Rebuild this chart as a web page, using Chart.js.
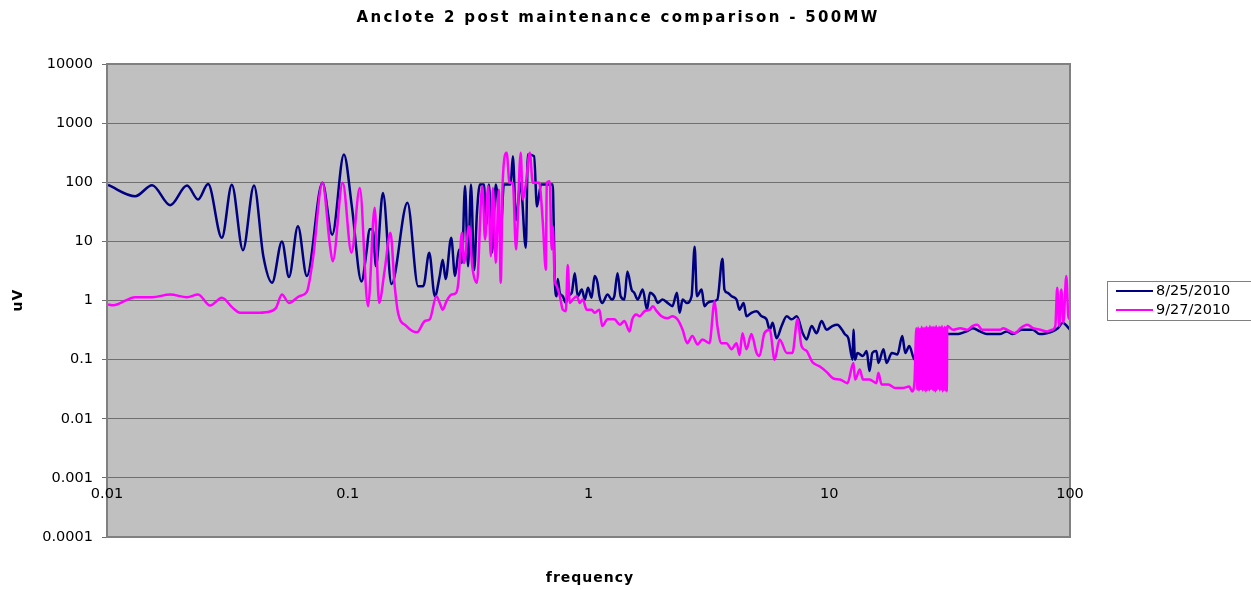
<!DOCTYPE html>
<html>
<head>
<meta charset="utf-8">
<title>Anclote 2 post maintenance comparison - 500MW</title>
<script src="https://cdn.jsdelivr.net/npm/chart.js@4.4.1/dist/chart.umd.min.js"></script>
<style>
  html, body { margin: 0; padding: 0; background: #fff; }
  #wrap { width: 1251px; height: 590px; }
</style>
</head>
<body>
<div id="wrap"><canvas id="specChart" width="1251" height="590"></canvas></div>
<script>
var chartTitle = 'Anclote 2 post maintenance comparison - 500MW';
var xTitle = 'frequency';
var yTitle = 'uV';
var seriesNames = ['8/25/2010', '9/27/2010'];
var seriesColors = ['#000080', '#ff00ff'];

var xTicks = [0.01, 0.1, 1, 10, 100];
var yTicks = [0.0001, 0.001, 0.01, 0.1, 1, 10, 100, 1000, 10000];
var xCross = 0.001; // horizontal axis crosses here

// 8/25/2010
var blueFreq = [
  0.0101, 0.0131, 0.0154, 0.0183, 0.0215, 0.0239, 0.0263, 0.0300, 0.0330, 0.0367,
  0.0408, 0.0446, 0.0485, 0.0533, 0.0570, 0.0621, 0.0676, 0.0785, 0.0862, 0.0964,
  0.104, 0.114, 0.120, 0.123, 0.127, 0.131, 0.140, 0.152, 0.177, 0.196,
  0.206, 0.218, 0.230, 0.241, 0.248, 0.255, 0.269, 0.279, 0.290, 0.298,
  0.307, 0.316, 0.325, 0.335, 0.344, 0.354, 0.368, 0.375, 0.386, 0.397,
  0.412, 0.432, 0.445, 0.475, 0.485, 0.500, 0.522, 0.549, 0.560, 0.594,
  0.611, 0.635, 0.710, 0.717, 0.724, 0.738, 0.745, 0.760, 0.782, 0.805,
  0.820, 0.852, 0.877, 0.902, 0.938, 0.966, 0.995,
  1.03, 1.06, 1.09, 1.11, 1.14, 1.20, 1.25, 1.28, 1.32, 1.36,
  1.41, 1.45, 1.51, 1.55, 1.60, 1.68, 1.75, 1.80, 1.88, 1.94,
  2.03, 2.14, 2.23, 2.33, 2.39, 2.46, 2.56, 2.68, 2.76, 2.82,
  2.95, 3.03, 3.12, 3.27, 3.43, 3.60, 3.67, 3.78, 3.93, 4.12,
  4.24, 4.41, 4.53, 4.75, 4.99, 5.24, 5.49, 5.66, 5.82, 6.04,
  6.34, 6.66, 6.98, 7.33, 7.76, 8.05, 8.45, 8.86, 9.29, 9.75,
  10.3, 10.8, 11.3, 11.6, 12.0, 12.5, 12.6, 12.8, 13.1, 13.8,
  14.3, 14.7, 15.1, 15.7, 16.0, 16.8, 17.3, 18.2, 19.2, 20.1,
  20.7, 21.5, 22.6, 24.8, 27.3, 30.9, 33.8, 37.2, 39.5, 42.3,
  45.1, 51.1, 54.6, 57.8, 62.9, 70.0, 74.8, 80.0, 84.7, 89.0,
  93.4, 97.1, 100
];
var blueUv = [
  90, 58, 89, 41, 88, 51, 93, 11.5, 91, 7.1,
  88, 5.6, 2.0, 10, 2.5, 18, 2.6, 98, 13, 296,
  39, 2.1, 7.3, 16, 16, 3.8, 66, 1.9, 45, 1.75,
  1.75, 6.4, 1.18, 2.6, 4.9, 2.3, 11.5, 2.6, 7.3, 4.3,
  86, 3.8, 92, 3.3, 30, 92, 92, 18, 92, 6.4,
  92, 14, 92, 92, 276, 23, 98, 7.8, 296, 276,
  39, 92, 92, 20, 2.3, 1.18, 2.3, 1.35, 1.18, 0.91,
  1.18, 1.35, 2.9, 1.18, 1.53, 1.04, 1.64,
  1.11, 2.6, 2.0, 1.18, 0.91, 1.26, 1.04, 1.18, 2.9, 1.18,
  1.04, 3.1, 1.53, 1.35, 1.04, 1.53, 0.7, 1.35, 1.18, 0.91,
  1.04, 0.9, 0.8, 1.35, 0.62, 1.04, 0.91, 1.18, 8.1, 1.18,
  1.53, 0.8, 0.91, 0.97, 1.04, 5.1, 1.53, 1.35, 1.18, 1.04,
  0.7, 0.91, 0.54, 0.62, 0.66, 0.54, 0.48, 0.32, 0.42, 0.23,
  0.37, 0.54, 0.48, 0.54, 0.28, 0.22, 0.37, 0.28, 0.45, 0.32,
  0.37, 0.39, 0.32, 0.27, 0.23, 0.1, 0.32, 0.1, 0.13, 0.115,
  0.14, 0.064, 0.13, 0.14, 0.088, 0.15, 0.088, 0.13, 0.122, 0.25,
  0.13, 0.17, 0.1, 0.2, 0.25, 0.27, 0.27, 0.30, 0.34, 0.30,
  0.27, 0.27, 0.30, 0.27, 0.32, 0.32, 0.27, 0.28, 0.30, 0.34,
  0.42, 0.37, 0.32
];

// 9/27/2010
var pinkFreq = [
  0.0101, 0.0106, 0.0131, 0.0154, 0.0183, 0.0215, 0.0239, 0.0268, 0.0300, 0.0333,
  0.0357, 0.0413, 0.0466, 0.0503, 0.0533, 0.0570, 0.0633, 0.0676, 0.0716, 0.0785,
  0.0844, 0.0866, 0.0953,
  0.1036, 0.1122, 0.1214, 0.1294, 0.1349, 0.1424, 0.1504, 0.1567, 0.1618, 0.1753,
  0.194, 0.209, 0.219, 0.2335, 0.241, 0.248, 0.257, 0.269, 0.282, 0.288,
  0.298, 0.304, 0.319, 0.329, 0.344, 0.362, 0.372, 0.383, 0.393, 0.401,
  0.412, 0.424, 0.432, 0.440, 0.457, 0.470, 0.485, 0.500, 0.523, 0.533,
  0.549, 0.570, 0.587, 0.624, 0.646, 0.665, 0.671, 0.690, 0.703, 0.710,
  0.724, 0.738, 0.760, 0.782, 0.805, 0.820, 0.836, 0.860, 0.894, 0.920,
  0.947, 0.983,
  1.03, 1.06, 1.11, 1.14, 1.20, 1.28, 1.35, 1.41, 1.48, 1.52,
  1.58, 1.63, 1.71, 1.80, 1.85, 1.92, 2.01, 2.13, 2.23, 2.34,
  2.46, 2.57, 2.70, 2.84, 2.97, 3.18, 3.34, 3.43, 3.56, 3.74,
  3.93, 4.12, 4.24, 4.36, 4.53, 4.75, 4.99, 5.13, 5.38, 5.66,
  5.93, 6.22, 6.66, 7.03, 7.38, 7.67, 8.05, 8.52, 9.11, 9.74,
  10.4, 11.1, 11.9, 12.6, 12.8, 13.4, 13.8, 14.7, 15.7, 16.0,
  16.5, 17.6, 18.8, 20.1, 21.5, 22.1, 22.6,
  23.0, 23.2, 23.4, 23.6, 23.8, 24.0, 24.2, 24.4, 24.6, 24.8,
  25.0, 25.2, 25.4, 25.6, 25.8, 26.0, 26.2, 26.4, 26.6, 26.8,
  27.0, 27.2, 27.4, 27.6, 27.8, 28.0, 28.2, 28.4, 28.6, 28.8,
  29.0, 29.2, 29.4, 29.6, 29.8, 30.0, 30.2, 30.4, 30.6, 30.8,
  30.9, 32.7, 35.0, 37.4, 39.3, 41.2, 43.2, 46.6, 51.3, 52.8,
  56.5, 59.3, 62.2, 66.5, 70.3, 75.2, 80.5, 84.4, 86.9, 88.5,
  90.2, 92.0, 93.9, 96.5, 98.4, 100
];
var pinkUv = [
  0.86, 0.83, 1.14, 1.14, 1.26, 1.14, 1.26, 0.82, 1.11, 0.75,
  0.62, 0.62, 0.64, 0.75, 1.26, 0.91, 1.2, 1.4, 4.9, 98,
  8.3, 4.6, 98,
  6.4, 80, 0.8, 37, 0.91, 3.3, 14, 1.75, 0.62, 0.37,
  0.29, 0.45, 0.48, 1.18, 0.91, 0.7, 0.97, 1.26, 1.35, 2.0,
  14, 4.3, 18, 3.8, 2.0, 86, 10.8, 86, 5.6, 80,
  4.3, 75, 2.0, 98, 316, 98, 98, 7.3, 316, 51,
  92, 316, 98, 98, 21, 3.3, 98, 104, 7.3, 18,
  2.3, 1.75, 1.18, 0.7, 0.66, 4.0, 0.91, 1.04, 1.18, 0.91,
  1.04, 0.7,
  0.7, 0.62, 0.7, 0.37, 0.48, 0.48, 0.39, 0.45, 0.30, 0.48,
  0.58, 0.54, 0.66, 0.7, 0.8, 0.66, 0.54, 0.5, 0.54, 0.48,
  0.32, 0.19, 0.25, 0.18, 0.22, 0.19, 0.97, 0.37, 0.19, 0.19,
  0.15, 0.19, 0.12, 0.28, 0.15, 0.27, 0.13, 0.115, 0.28, 0.32,
  0.1, 0.22, 0.13, 0.13, 0.48, 0.17, 0.14, 0.09, 0.077, 0.062,
  0.048, 0.046, 0.04, 0.088, 0.046, 0.068, 0.046, 0.046, 0.04, 0.06,
  0.038, 0.038, 0.033, 0.033, 0.035, 0.029, 0.043,
  0.34, 0.031, 0.35, 0.030, 0.33, 0.032, 0.36, 0.030, 0.34, 0.031,
  0.35, 0.029, 0.36, 0.031, 0.34, 0.030, 0.37, 0.032, 0.35, 0.031,
  0.36, 0.030, 0.35, 0.029, 0.37, 0.031, 0.34, 0.033, 0.36, 0.030,
  0.35, 0.032, 0.37, 0.029, 0.34, 0.031, 0.36, 0.030, 0.35, 0.029,
  0.37, 0.32, 0.34, 0.32, 0.37, 0.39, 0.32, 0.32, 0.32, 0.34,
  0.30, 0.28, 0.34, 0.39, 0.34, 0.32, 0.30, 0.32, 0.37, 1.64,
  0.37, 1.53, 0.42, 2.6, 0.54, 0.48
];

function toPoints(freq, uv) {
  return freq.map(function (f, i) { return { x: f, y: uv[i] }; });
}

var textFont = '"DejaVu Sans", "Liberation Sans", Arial, sans-serif';

// gray plot area, frame, x labels on the crossing line, titles and legend
var plotDecor = {
  id: 'plotDecor',
  beforeDraw: function (chart) {
    var ctx = chart.ctx, a = chart.chartArea;
    ctx.save();
    ctx.fillStyle = '#ffffff';
    ctx.fillRect(0, 0, chart.width, chart.height);
    ctx.fillStyle = '#c0c0c0';
    ctx.fillRect(a.left, a.top, a.right - a.left, a.bottom - a.top);
    ctx.restore();
  },
  afterDraw: function (chart) {
    var ctx = chart.ctx, a = chart.chartArea;
    var xs = chart.scales.x, ys = chart.scales.y;
    ctx.save();

    ctx.strokeStyle = '#808080';
    ctx.lineWidth = 2;
    ctx.strokeRect(a.left, a.top, a.right - a.left, a.bottom - a.top);

    ctx.fillStyle = '#000';
    ctx.font = '14.5px ' + textFont;
    ctx.textAlign = 'center';
    ctx.textBaseline = 'middle';
    var yc = ys.getPixelForValue(xCross);
    xTicks.forEach(function (v) {
      ctx.fillText(String(v), xs.getPixelForValue(v), yc + 16);
    });

    ctx.font = 'bold 15px ' + textFont;
    ctx.letterSpacing = '2.3px';
    ctx.fillText(chartTitle, 618, 18);

    ctx.font = 'bold 14px ' + textFont;
    ctx.letterSpacing = '1px';
    ctx.fillText(xTitle, 590, 578);

    ctx.save();
    ctx.translate(18, 300);
    ctx.rotate(-Math.PI / 2);
    ctx.fillText(yTitle, 0, 0);
    ctx.restore();

    // legend box, running off the right edge
    ctx.letterSpacing = '0px';
    ctx.strokeStyle = '#808080';
    ctx.lineWidth = 1;
    ctx.strokeRect(1107.5, 281.5, 160, 39);
    ctx.font = '14.5px ' + textFont;
    ctx.textAlign = 'left';
    seriesNames.forEach(function (name, i) {
      var y = 291 + i * 19;
      ctx.strokeStyle = seriesColors[i];
      ctx.lineWidth = 2;
      ctx.beginPath();
      ctx.moveTo(1116, y);
      ctx.lineTo(1153, y);
      ctx.stroke();
      ctx.fillStyle = '#000';
      ctx.fillText(name, 1156, y);
    });

    ctx.restore();
  }
};

new Chart(document.getElementById('specChart').getContext('2d'), {
  type: 'line',
  data: {
    datasets: [{
      label: seriesNames[0],
      data: toPoints(blueFreq, blueUv),
      borderColor: seriesColors[0],
      borderWidth: 2.5,
      order: 2
    }, {
      label: seriesNames[1],
      data: toPoints(pinkFreq, pinkUv),
      borderColor: seriesColors[1],
      borderWidth: 2.5,
      order: 1
    }]
  },
  options: {
    responsive: false,
    animation: false,
    events: [],
    layout: { padding: { top: 64, right: 181, bottom: 53, left: 0 } },
    elements: {
      point: { radius: 0 },
      line: { cubicInterpolationMode: 'monotone', fill: false }
    },
    plugins: {
      legend: { display: false },
      title: { display: false },
      tooltip: { enabled: false }
    },
    scales: {
      x: {
        type: 'logarithmic',
        min: 0.01,
        max: 100,
        ticks: { display: false },
        grid: { display: false, drawTicks: false },
        border: { display: false },
        afterFit: function (s) { s.height = 0; }
      },
      y: {
        type: 'logarithmic',
        min: 0.0001,
        max: 10000,
        afterBuildTicks: function (s) {
          s.ticks = yTicks.map(function (v) { return { value: v }; });
        },
        afterFit: function (s) { s.width = 107; },
        ticks: {
          color: '#000',
          padding: 9,
          font: { family: textFont, size: 14.5 },
          callback: function (v) { return String(v); }
        },
        grid: { color: '#6f6f6f', lineWidth: 1, tickLength: 5, tickColor: '#6f6f6f' },
        border: { color: '#808080', width: 2 }
      }
    }
  },
  plugins: [plotDecor]
});
</script>
</body>
</html>
